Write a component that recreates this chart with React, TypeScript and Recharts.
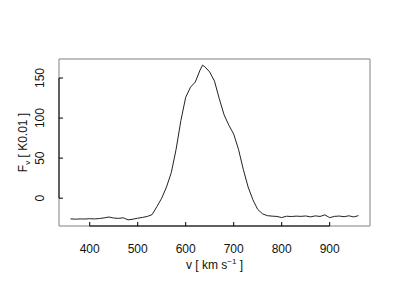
import { LineChart, Line, XAxis, YAxis, ReferenceArea, ReferenceLine } from 'recharts'

// velocity (km/s) and flux density (K 0.01)
const velocity = [
  360, 370, 380, 390, 400, 410, 420, 430, 440, 450, 460, 470, 480, 490, 500, 510, 520, 530,
  540, 550, 560, 570, 580, 590, 600, 610, 620, 630, 635, 640, 650, 660, 670, 680, 690, 700,
  710, 720, 730, 740, 750, 760, 770, 780, 790, 800, 810, 820, 830, 840, 850, 860, 870, 880,
  890, 900, 910, 920, 930, 940, 950, 960,
]
const flux = [
  -25.8, -26.2, -25.9, -26.0, -25.6, -25.9, -25.4, -24.6, -23.5, -24.8, -25.2, -24.5, -27.0, -26.2, -25.0, -24.0, -22.8, -20.5,
  -10.5, 0, 14, 32, 61, 97, 126, 138.5, 145, 160, 166, 164, 157.5, 146, 124, 104, 91, 80,
  61, 36, 14, -2, -14, -19.5, -21.8, -22.4, -22.8, -24.2, -22.5, -22.9, -22.4, -22.7, -22.2, -23.3, -22.1, -22.8,
  -20.8, -24.3, -22.7, -22.3, -23.1, -22.0, -23.4, -21.8,
]
const xTicks = [400, 500, 600, 700, 800, 900]
const yTicks = [0, 50, 100, 150]

const data = velocity.map((v, i) => ({ v, f: flux[i] }))

// R-style 4% padding around the data range
const pad = (lo: number, hi: number) => {
  const d = (hi - lo) * 0.04
  return [lo - d, hi + d]
}
const xDomain = pad(Math.min(...velocity), Math.max(...velocity))
const yDomain = pad(Math.min(...flux), Math.max(...flux))

const FONT = '"Liberation Sans", Arial, sans-serif'

function XTick({ x, y, payload }: any) {
  return (
    <g>
      <line x1={x} x2={x} y1={y} y2={y - 4} stroke="#000" />
      <text x={x} y={y + 27} textAnchor="middle" fontSize={12} fontFamily={FONT} fill="#111">
        {payload.value}
      </text>
    </g>
  )
}

function YTick({ x, y, payload }: any) {
  const tx = x - 15
  return (
    <g>
      <line x1={x} x2={x + 4} y1={y} y2={y} stroke="#000" />
      <text x={tx} y={y} textAnchor="middle" fontSize={12} fontFamily={FONT} fill="#111"
        transform={`rotate(-90, ${tx}, ${y})`}>
        {payload.value}
      </text>
    </g>
  )
}

function XTitle({ viewBox }: any) {
  const cx = viewBox.x + viewBox.width / 2
  const y = viewBox.y + 43
  return (
    <text x={cx} y={y} textAnchor="middle" fontSize={12} fontFamily={FONT} fill="#111">
      v [ km s<tspan dy={-5} fontSize={8}>−1</tspan><tspan dy={5}> ]</tspan>
    </text>
  )
}

function YTitle({ viewBox }: any) {
  const tx = viewBox.x + 27
  const cy = viewBox.y + viewBox.height / 2
  return (
    <text x={tx} y={cy} textAnchor="middle" fontSize={12} fontFamily={FONT} fill="#111"
      transform={`rotate(-90, ${tx}, ${cy})`}>
      F<tspan dy={3} fontSize={8}>v</tspan><tspan dy={-3}> [ K0.01 ]</tspan>
    </text>
  )
}

export default function App() {
  return (
    <div style={{ position: 'absolute', left: 0, top: 0, background: '#fff' }}>
      <LineChart width={400} height={300} data={data} margin={{ top: 59, right: 30, bottom: 0, left: 0 }}>
        <XAxis dataKey="v" type="number" domain={xDomain} ticks={xTicks} interval={0}
          axisLine={false} tickLine={false} tickSize={0} tickMargin={0} height={74}
          tick={<XTick />} label={<XTitle />} />
        <YAxis type="number" domain={yDomain} ticks={yTicks} interval={0}
          axisLine={false} tickLine={false} tickSize={0} tickMargin={0} width={59}
          tick={<YTick />} label={<YTitle />} />
        <ReferenceArea x1={xDomain[0]} x2={xDomain[1]} y1={yDomain[0]} y2={yDomain[1]}
          fill="none" stroke="#808080" strokeWidth={1} />
        <ReferenceLine segment={[{ x: xTicks[0], y: yDomain[0] }, { x: xTicks[xTicks.length - 1], y: yDomain[0] }]}
          stroke="#000" />
        <ReferenceLine segment={[{ x: xDomain[0], y: yTicks[0] }, { x: xDomain[0], y: yTicks[yTicks.length - 1] }]}
          stroke="#000" />
        <Line type="linear" dataKey="f" stroke="#222" strokeWidth={1} dot={false} isAnimationActive={false} />
      </LineChart>
    </div>
  )
}
